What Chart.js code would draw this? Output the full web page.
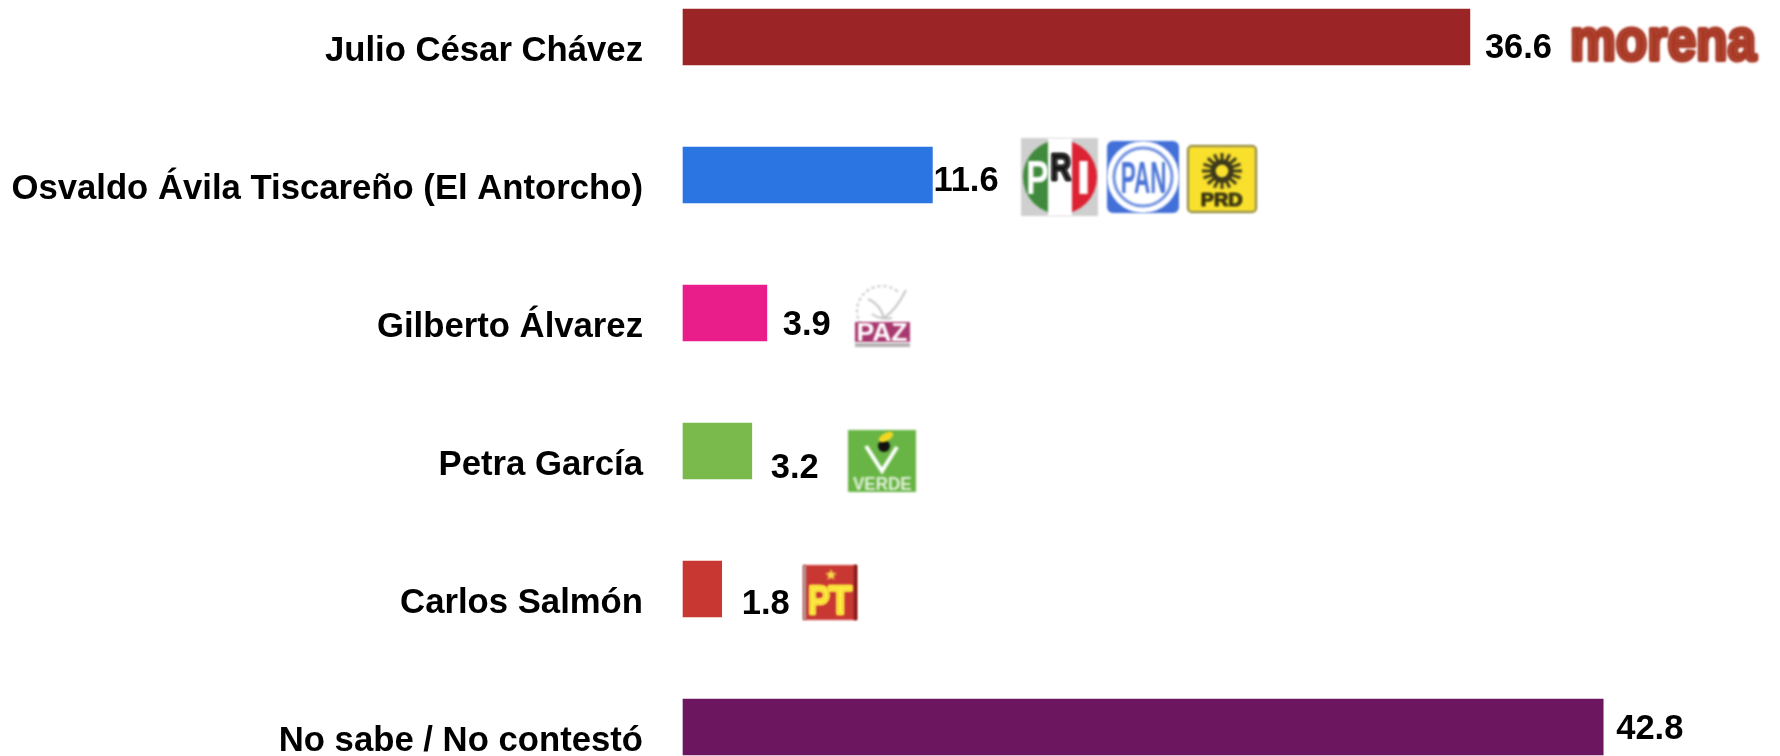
<!DOCTYPE html>
<html lang="es">
<head>
<meta charset="utf-8">
<title>Preferencia</title>
<script src="https://cdn.jsdelivr.net/npm/chart.js@4"></script>
<style>
  html, body { margin: 0; background: #fff; }
  canvas { display: block; }
</style>
</head>
<body>
<canvas id="myChart" width="1780" height="756"></canvas>
<script>
const categories = [
  'Julio César Chávez',
  'Osvaldo Ávila Tiscareño (El Antorcho)',
  'Gilberto Álvarez',
  'Petra García',
  'Carlos Salmón',
  'No sabe / No contestó'
];
const values = [36.6, 11.6, 3.9, 3.2, 1.8, 42.8];
const barColors = ['#9b2526', '#2b75e3', '#ea1e8b', '#7ab94b', '#c93733', '#6d1660'];

// las etiquetas del original no van alineadas con la barra
const labelGap = [15, 1, 16, 19, 20, 13];
const labelShift = [11, 6, 12, 17, 15, 2];

const FONT = '"Liberation Sans", Arial, sans-serif';

// texto ajustado a una caja (x, y = esquina superior izquierda de la letra)
function boxText(ctx, text, x, y, w, h, color, heavy) {
  ctx.save();
  ctx.font = 'bold 100px ' + FONT;
  ctx.textBaseline = 'alphabetic';
  ctx.textAlign = 'left';
  const m = ctx.measureText(text);
  const tw = m.actualBoundingBoxRight + m.actualBoundingBoxLeft;
  const th = m.actualBoundingBoxAscent + m.actualBoundingBoxDescent;
  ctx.translate(x, y);
  ctx.scale(w / tw, h / th);
  ctx.fillStyle = color;
  ctx.fillText(text, m.actualBoundingBoxLeft, m.actualBoundingBoxAscent);
  if (heavy) {
    ctx.strokeStyle = color;
    ctx.lineWidth = heavy;
    ctx.lineJoin = 'round';
    ctx.strokeText(text, m.actualBoundingBoxLeft, m.actualBoundingBoxAscent);
  }
  ctx.restore();
}

function star(ctx, cx, cy, r, color) {
  ctx.fillStyle = color;
  ctx.beginPath();
  for (let i = 0; i < 10; i++) {
    const rr = i % 2 ? r * 0.45 : r;
    const a = -Math.PI / 2 + i * Math.PI / 5;
    ctx.lineTo(cx + rr * Math.cos(a), cy + rr * Math.sin(a));
  }
  ctx.closePath();
  ctx.fill();
}

function drawMorena(ctx) {
  boxText(ctx, 'morena', 1573, 28, 184, 33, '#a93a26', 7);
}

function drawPri(ctx) {
  ctx.fillStyle = '#cfcfcf';
  ctx.fillRect(1021, 138, 77, 78);
  ctx.fillStyle = '#3f8a3c';
  ctx.beginPath();
  ctx.ellipse(1060, 177, 37, 37, 0, Math.PI / 2, Math.PI * 1.5);
  ctx.fill();
  ctx.fillStyle = '#dc2233';
  ctx.beginPath();
  ctx.ellipse(1060, 177, 37, 37, 0, -Math.PI / 2, Math.PI / 2);
  ctx.fill();
  ctx.fillStyle = '#fff';
  ctx.fillRect(1048, 138, 24, 78);
  boxText(ctx, 'P', 1028, 160, 20, 34, '#fff');
  boxText(ctx, 'R', 1052, 154, 19, 26, '#111', 6);
  boxText(ctx, 'I', 1079, 161, 9, 33, '#fff');
}

function drawPan(ctx) {
  ctx.fillStyle = '#4270d8';
  ctx.beginPath();
  ctx.roundRect(1107, 141, 72, 72, 6);
  ctx.fill();
  ctx.fillStyle = '#fff';
  ctx.beginPath();
  ctx.arc(1143, 177, 36, 0, Math.PI * 2);
  ctx.fill();
  ctx.strokeStyle = '#6f90e0';
  ctx.lineWidth = 3;
  ctx.beginPath();
  ctx.arc(1143, 177, 29, 0, Math.PI * 2);
  ctx.stroke();
  boxText(ctx, 'PAN', 1122, 161, 43, 32, '#4a74d6');
}

function drawPrd(ctx) {
  ctx.fillStyle = '#f8e02c';
  ctx.strokeStyle = '#8a8240';
  ctx.lineWidth = 2;
  ctx.beginPath();
  ctx.roundRect(1188, 146, 68, 66, 4);
  ctx.fill();
  ctx.stroke();
  const cx = 1222, cy = 171;
  ctx.strokeStyle = '#3d3a1c';
  ctx.lineWidth = 3;
  for (let i = 0; i < 16; i++) {
    const a = i * Math.PI / 8;
    ctx.beginPath();
    ctx.moveTo(cx + 8 * Math.cos(a), cy + 8 * Math.sin(a));
    ctx.lineTo(cx + 20 * Math.cos(a), cy + 18 * Math.sin(a));
    ctx.stroke();
  }
  ctx.lineWidth = 5;
  ctx.beginPath();
  ctx.arc(cx, cy, 9, 0, Math.PI * 2);
  ctx.stroke();
  boxText(ctx, 'PRD', 1202, 193, 40, 13, '#26230f', 4);
}

function drawPaz(ctx) {
  // paloma
  ctx.strokeStyle = '#c4c4c4';
  ctx.lineWidth = 2;
  ctx.setLineDash([3, 3]);
  ctx.beginPath();
  ctx.arc(882, 311, 25, Math.PI * 0.75, Math.PI * 1.75);
  ctx.stroke();
  ctx.setLineDash([]);
  ctx.beginPath();
  ctx.moveTo(868, 299);
  ctx.quadraticCurveTo(880, 304, 884, 318);
  ctx.quadraticCurveTo(896, 310, 906, 290);
  ctx.moveTo(872, 314);
  ctx.quadraticCurveTo(880, 320, 892, 318);
  ctx.stroke();
  ctx.fillStyle = '#a8386f';
  ctx.fillRect(855, 322, 55, 20);
  boxText(ctx, 'PAZ', 858, 323, 49, 18, '#fff');
  ctx.fillStyle = '#b5b0b3';
  ctx.fillRect(855, 343, 55, 4);
}

function drawVerde(ctx) {
  ctx.fillStyle = '#68b545';
  ctx.fillRect(848, 430, 68, 62);
  ctx.strokeStyle = '#fff';
  ctx.lineWidth = 4;
  ctx.beginPath();
  ctx.moveTo(866, 446);
  ctx.lineTo(882, 471);
  ctx.lineTo(897, 447);
  ctx.stroke();
  ctx.fillStyle = '#111';
  ctx.beginPath();
  ctx.ellipse(884, 446, 6, 6, 0, 0, Math.PI * 2);
  ctx.fill();
  ctx.fillStyle = '#f2d722';
  ctx.beginPath();
  ctx.ellipse(886, 437, 8, 4, -0.5, 0, Math.PI * 2);
  ctx.fill();
  boxText(ctx, 'VERDE', 853, 477, 58, 13, '#e4f1dc');
}

function drawPt(ctx) {
  ctx.fillStyle = '#c93733';
  ctx.fillRect(803, 565, 54, 55);
  ctx.fillStyle = '#b09a9a';
  ctx.fillRect(803, 565, 3, 55);
  ctx.fillStyle = '#7b1c1a';
  ctx.fillRect(854, 565, 3, 55);
  star(ctx, 831, 575, 6, '#f6d84a');
  boxText(ctx, 'P', 810, 585, 19, 29, '#fdee3e', 6);
  boxText(ctx, 'T', 829, 585, 23, 29, '#fdee3e', 6);
}

// logos de los partidos, borrosos como en la imagen original
const logoPlugin = {
  id: 'logos',
  afterDraw(chart) {
    const ctx = chart.ctx;
    ctx.save();
    ctx.filter = 'blur(0.8px)';
    [drawMorena, drawPri, drawPan, drawPrd, drawPaz, drawVerde, drawPt].forEach(fn => fn(ctx));
    ctx.restore();
  }
};

const valueLabels = {
  id: 'valueLabels',
  afterDatasetsDraw(chart) {
    const ctx = chart.ctx;
    const xs = chart.scales.x, ys = chart.scales.y;
    ctx.save();
    ctx.font = 'bold 34.5px ' + FONT;
    ctx.fillStyle = '#000';
    ctx.textAlign = 'left';
    ctx.textBaseline = 'middle';
    values.forEach((v, i) => {
      ctx.fillText(v.toFixed(1), xs.getPixelForValue(v) + labelGap[i], ys.getPixelForValue(i) + labelShift[i]);
    });
    ctx.restore();
  }
};

new Chart(document.getElementById('myChart').getContext('2d'), {
  type: 'bar',
  data: {
    labels: categories,
    datasets: [{
      data: values,
      backgroundColor: barColors,
      borderWidth: 0,
      barThickness: 56,
      clip: false
    }]
  },
  options: {
    indexAxis: 'y',
    responsive: false,
    animation: false,
    layout: { padding: { top: 37, bottom: 29, left: 0, right: 22 } },
    plugins: { legend: { display: false }, tooltip: { enabled: false } },
    scales: {
      x: { display: false, min: 0, max: 50 },
      y: {
        offset: false,
        grid: { display: false },
        border: { display: false },
        afterFit(axis) {
          axis.width = 683;
          axis.paddingTop = 0;
          axis.paddingBottom = 0;
        },
        ticks: {
          autoSkip: false,
          color: '#000',
          padding: 32,
          labelOffset: 14,
          font: { family: FONT, size: 34.7, weight: 'bold' }
        }
      }
    }
  },
  plugins: [valueLabels, logoPlugin]
});
</script>
</body>
</html>
